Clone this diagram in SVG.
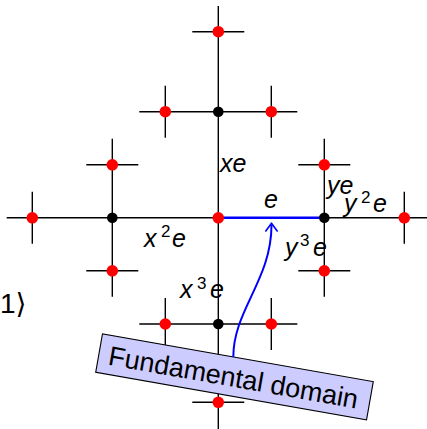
<svg xmlns="http://www.w3.org/2000/svg" width="427" height="429" viewBox="0 0 427 429">
<style>
.ln{stroke:#000;stroke-width:1.4;fill:none}
.red{fill:#ff0000}
.blk{fill:#000}
.lab{font-family:"Liberation Sans",Arial,sans-serif;font-style:italic;font-size:25px;fill:#000}
.sup{font-family:"Liberation Sans",Arial,sans-serif;font-size:17px;fill:#000}
.box{fill:#ccccff;stroke:#000;stroke-width:1.1}
.boxt{font-family:"Liberation Sans",Arial,sans-serif;font-size:27px;fill:#000}
.blue{stroke:#0000ff;fill:none}
</style>
<rect width="427" height="429" fill="#fff"/>
<g id="connectors">
<path class="ln" d="M6.7,217.8H427 M218.3,6V429"/>
<path class="ln" d="M139.3,111.7H297.3 M139.3,324H297.3 M112.3,138.8V296.8 M324.3,138.8V296.8"/>
<path class="ln" d="M192.3,31.7H244.3 M192.3,402.3H244.3 M165.3,85.7V137.7 M271.3,85.7V137.7 M165.3,298V350 M271.3,298V350 M86.3,164.8H138.3 M86.3,270.8H138.3 M298.3,164.8H350.3 M298.3,270.8H350.3 M32.3,191.8V243.8 M404.3,191.8V243.8"/>
<path class="blue" stroke-width="2.5" d="M218.3,217.8H324.3"/>
</g>
<g id="n-e"><circle class="red" cx="218.3" cy="217.8" r="5.8"/></g>
<g id="n-top"><circle class="blk" cx="218.3" cy="111.7" r="5.3"/></g>
<g id="n-bottom"><circle class="blk" cx="218.3" cy="324" r="5.3"/></g>
<g id="n-left"><circle class="blk" cx="112.3" cy="217.8" r="5.3"/></g>
<g id="n-right"><circle class="blk" cx="324.3" cy="217.8" r="5.3"/></g>
<g id="n-top-top"><circle class="red" cx="218.3" cy="31.7" r="5.8"/></g>
<g id="n-top-l"><circle class="red" cx="165.3" cy="111.7" r="5.8"/></g>
<g id="n-top-r"><circle class="red" cx="271.3" cy="111.7" r="5.8"/></g>
<g id="n-left-u"><circle class="red" cx="112.3" cy="164.8" r="5.8"/></g>
<g id="n-left-d"><circle class="red" cx="112.3" cy="270.8" r="5.8"/></g>
<g id="n-left-left"><circle class="red" cx="32.3" cy="217.8" r="5.8"/></g>
<g id="n-right-u"><circle class="red" cx="324.3" cy="164.8" r="5.8"/></g>
<g id="n-right-d"><circle class="red" cx="324.3" cy="270.8" r="5.8"/></g>
<g id="n-right-right"><circle class="red" cx="404.3" cy="217.8" r="5.8"/></g>
<g id="n-bottom-l"><circle class="red" cx="165.3" cy="324" r="5.8"/></g>
<g id="n-bottom-r"><circle class="red" cx="271.3" cy="324" r="5.8"/></g>
<g id="n-bottom-bottom"><circle class="red" cx="218.3" cy="402.3" r="5.8"/></g>
<g id="labels">
<text class="lab" x="220" y="172">xe</text>
<text class="lab" x="264" y="208">e</text>
<text class="lab" x="327" y="194">ye</text>
<text class="lab" x="344" y="212">y</text><text class="sup" x="361" y="203">2</text><text class="lab" x="373" y="212">e</text>
<text class="lab" x="285" y="256">y</text><text class="sup" x="300" y="246">3</text><text class="lab" x="313" y="256">e</text>
<text class="lab" x="144" y="247">x</text><text class="sup" x="161" y="237">2</text><text class="lab" x="172" y="247">e</text>
<text class="lab" x="180" y="298">x</text><text class="sup" x="197" y="289">3</text><text class="lab" x="210" y="298">e</text>
<text x="0" y="313" font-family="Liberation Sans, DejaVu Sans, sans-serif" font-size="28">1⟩</text>
</g>
<g id="fundamental-domain">
<g transform="translate(234.5,376.9) rotate(10)">
<rect class="box" x="-137.5" y="-19.5" width="275" height="39"/>
<text class="boxt" x="-1" y="10" text-anchor="middle" textLength="253" lengthAdjust="spacing">Fundamental domain</text>
</g>
</g>
<g id="arrow">
<path class="blue" stroke-width="2" d="M233.3,357 C233.3,310 271.5,280 271.5,225"/>
<path class="blue" stroke-width="1.6" stroke-linecap="round" stroke-linejoin="round" d="M265.8,231 L271.5,223.2 L277.2,231"/>
</g>
</svg>
